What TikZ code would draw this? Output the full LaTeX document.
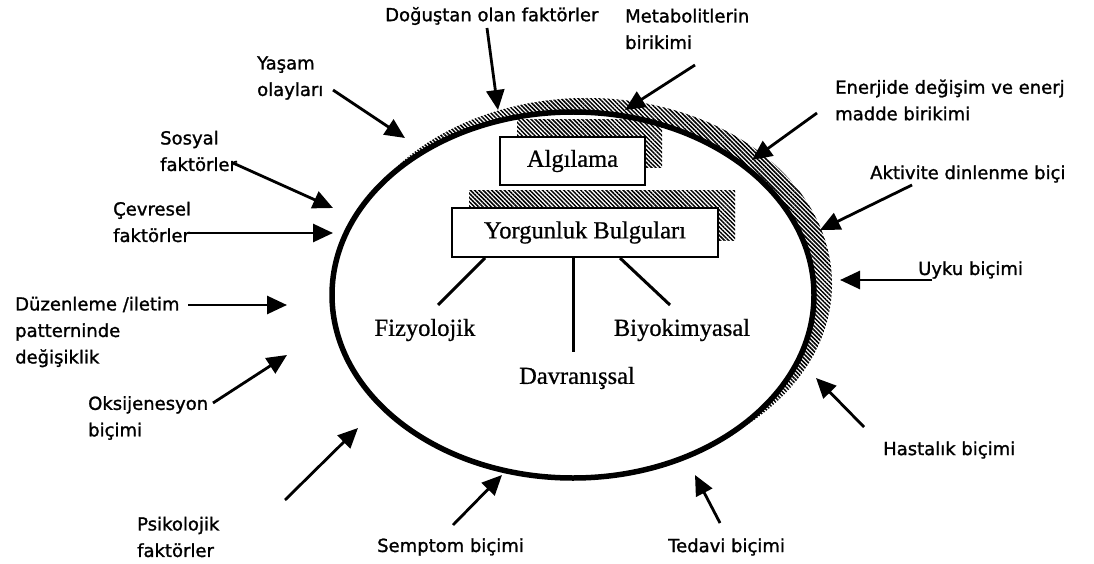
\documentclass[tikz,border=0pt]{standalone}
\usepackage{fontspec}
\setmainfont{Liberation Serif}[FakeBold=0.8]
\newfontfamily\etiketfont{DejaVu Sans}[FakeBold=1.3]
\usetikzlibrary{positioning,arrows.meta,patterns.meta,shadows}

\begin{document}
\begin{tikzpicture}[x=1pt,y=-1pt,
                etiket/.style={inner sep=0pt,anchor=west,align=left,font=\etiketfont\fontsize{18}{26.5}\selectfont},
                ok/.style={line width=2.8pt,-{Triangle[length=20pt,width=18pt]}},
                kol/.style={line width=3pt},
                tarali/.style={pattern={Lines[angle=-45,distance=3pt,line width=1.5pt]}},
                kutu/.style={draw,line width=2pt,fill=white,inner sep=0pt,font=\fontsize{24.5}{28}\selectfont,
                    general shadow={shadow xshift=17pt,shadow yshift=17pt,tarali}},
                alt/.style={inner sep=0pt,font=\fontsize{24.5}{28}\selectfont}]
                \useasboundingbox (0,0) rectangle (1094,564);
                \fill[tarali] (587,284) ellipse [x radius=245pt,y radius=186pt];
                \draw[line width=5.5pt,fill=white] (573,295) ellipse [x radius=241pt,y radius=183pt];
                \node[kutu,minimum width=145pt,minimum height=48pt] (algilama) at (572.5,161) {Algılama};
                \node[kutu,minimum width=266pt,minimum height=49pt] (yorgunluk) at (585,232.5) {Yorgunluk Bulguları\hspace{20pt}};
                \node[alt] (fizyolojik) at (425,330) {Fizyolojik};
                \node[alt] (biyokimyasal) at (682,330) {Biyokimyasal};
                \node[alt] (davranissal) at (577,378) {Davranışsal};
                \coordinate (fiz-uc) at (438,305);
                \coordinate (biyo-uc) at (670,305);
                \coordinate (dav-uc) at (573,352);
                \draw[kol] ([xshift=-100pt]yorgunluk.south) -- (fiz-uc);
                \draw[kol] ([xshift=-12pt]yorgunluk.south) -- (dav-uc);
                \draw[kol] ([xshift=35pt]yorgunluk.south) -- (biyo-uc);
                \node[etiket] (yasam) at (257,78) {Yaşam\\olayları};
                \node[etiket] (dogustan) at (385,16) {Doğuştan olan faktörler};
                \node[etiket] (metabolit) at (625,29) {Metabolitlerin\\birikimi};
                \node[etiket] (enerji) at (835,100) {Enerjide değişim ve enerj\\madde birikimi};
                \node[etiket] (aktivite) at (870,174) {Aktivite dinlenme biçi};
                \node[etiket] (uyku) at (918,270) {Uyku biçimi};
                \node[etiket] (hastalik) at (883,450) {Hastalık biçimi};
                \node[etiket] (tedavi) at (668,547) {Tedavi biçimi};
                \node[etiket] (semptom) at (377,547) {Semptom biçimi};
                \node[etiket] (psikolojik) at (137,537) {Psikolojik\\faktörler};
                \node[etiket] (oksijen) at (88,418) {Oksijenesyon\\biçimi};
                \node[etiket] (duzenleme) at (15,332) {Düzenleme /iletim\\patterninde\\değişiklik};
                \node[etiket] (cevresel) at (113,222) {Çevresel\\faktörler};
                \node[etiket] (sosyal) at (160,151) {Sosyal\\faktörler};
                \coordinate (yasam-k) at (333,90);
                \coordinate (yasam-u) at (405,138);
                \coordinate (dogustan-k) at (487,28);
                \coordinate (dogustan-u) at (498,110);
                \coordinate (metabolit-k) at (695,65);
                \coordinate (metabolit-u) at (625,110);
                \coordinate (enerji-k) at (817,113);
                \coordinate (enerji-u) at (752,160);
                \coordinate (aktivite-k) at (912,185);
                \coordinate (aktivite-u) at (820,230);
                \coordinate (uyku-k) at (932,280);
                \coordinate (uyku-u) at (840,280);
                \coordinate (hastalik-k) at (864,427);
                \coordinate (hastalik-u) at (816,378);
                \coordinate (tedavi-k) at (720,523);
                \coordinate (tedavi-u) at (695,475);
                \coordinate (semptom-k) at (453,525);
                \coordinate (semptom-u) at (502,475);
                \coordinate (psikolojik-k) at (285,500);
                \coordinate (psikolojik-u) at (358,428);
                \coordinate (oksijen-k) at (213,403);
                \coordinate (oksijen-u) at (287,355);
                \coordinate (duzenleme-k) at (188,305);
                \coordinate (duzenleme-u) at (287,305);
                \coordinate (cevresel-k) at (188,233);
                \coordinate (cevresel-u) at (333,233);
                \coordinate (sosyal-k) at (233,163);
                \coordinate (sosyal-u) at (333,208);
                \draw[ok] (yasam-k) -- (yasam-u);
                \draw[ok] (dogustan-k) -- (dogustan-u);
                \draw[ok] (metabolit-k) -- (metabolit-u);
                \draw[ok] (enerji-k) -- (enerji-u);
                \draw[ok] (aktivite-k) -- (aktivite-u);
                \draw[ok] (uyku-k) -- (uyku-u);
                \draw[ok] (hastalik-k) -- (hastalik-u);
                \draw[ok] (tedavi-k) -- (tedavi-u);
                \draw[ok] (semptom-k) -- (semptom-u);
                \draw[ok] (psikolojik-k) -- (psikolojik-u);
                \draw[ok] (oksijen-k) -- (oksijen-u);
                \draw[ok] (duzenleme-k) -- (duzenleme-u);
                \draw[ok] (cevresel-k) -- (cevresel-u);
                \draw[ok] (sosyal-k) -- (sosyal-u);
\end{tikzpicture}
\end{document}
